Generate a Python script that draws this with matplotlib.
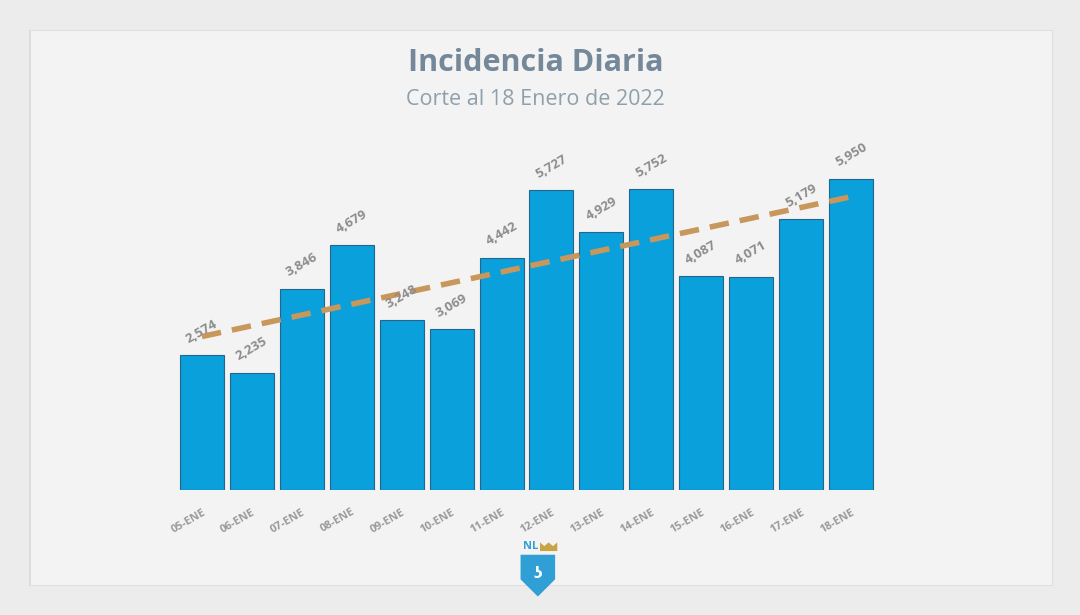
import numpy as np
import matplotlib
matplotlib.use('Agg')
import matplotlib.pyplot as plt
from matplotlib.patches import FancyBboxPatch, Polygon

dias = ['05-ENE', '06-ENE', '07-ENE', '08-ENE', '09-ENE', '10-ENE', '11-ENE',
        '12-ENE', '13-ENE', '14-ENE', '15-ENE', '16-ENE', '17-ENE', '18-ENE']
casos = [2574, 2235, 3846, 4679, 3248, 3069, 4442,
         5727, 4929, 5752, 4087, 4071, 5179, 5950]

plt.rcParams['font.family'] = ['Open Sans', 'DejaVu Sans']

fig = plt.figure(figsize=(10.8, 6.15), dpi=100)
fig.patch.set_facecolor('#ececec')

# panel con sombra
fig.patches.append(FancyBboxPatch((0.027, 0.047), 0.948, 0.905, boxstyle='square,pad=0',
                                  transform=fig.transFigure, facecolor='#dedede',
                                  edgecolor='none', zorder=-2))
fig.patches.append(FancyBboxPatch((0.029, 0.049), 0.945, 0.900, boxstyle='square,pad=0',
                                  transform=fig.transFigure, facecolor='#f3f3f3',
                                  edgecolor='none', zorder=-1))

ax = fig.add_axes([0.1639, 0.2033, 0.6472, 0.5528])
ax.set_facecolor('none')
ax.set_zorder(2)

x = np.arange(len(dias))
ax.bar(x, casos, width=0.88, color='#0aa0dc', edgecolor='#22668c', linewidth=0.8, zorder=2)

for xi, v in zip(x, casos):
    ax.annotate(f'{v:,}', (xi, v), xytext=(0, 7), textcoords='offset points',
                ha='center', va='bottom', rotation=30, fontsize=9.5, fontweight='bold',
                color='#8c8c8c', zorder=4)

# linea de tendencia
m, b = np.polyfit(x, casos, 1)
ax.plot(x, m * x + b, color='#c8975c', linewidth=4, linestyle=(0, (3.5, 2)),
        zorder=3, solid_capstyle='butt')

ax.set_xlim(-0.5, len(dias) - 0.5)
ax.set_ylim(0, 6500)
ax.set_xticks(x)
ax.set_xticklabels(dias, rotation=30, ha='right', rotation_mode='anchor',
                   fontsize=8, fontweight='bold', color='#9a9a9a')
ax.tick_params(axis='x', length=0, pad=12)
ax.set_yticks([])
for s in ax.spines.values():
    s.set_visible(False)

fig.text(0.496, 0.898, 'Incidencia Diaria', ha='center', va='center',
         fontsize=22, fontweight='bold', color='#74889a')
fig.text(0.496, 0.839, 'Corte al 18 Enero de 2022', ha='center', va='center',
         fontsize=15.5, color='#8fa0ad')

# logo
fig.text(0.491, 0.112, 'NL', ha='center', va='center', fontsize=8,
         fontweight='bold', color='#2f9fd6')
fig.patches.append(Polygon([(0.500, 0.104), (0.500, 0.118), (0.504, 0.112),
                            (0.508, 0.118), (0.512, 0.112), (0.516, 0.118),
                            (0.516, 0.104)], closed=True, transform=fig.transFigure,
                           facecolor='#c9a447', edgecolor='none', zorder=5))
fig.patches.append(Polygon([(0.482, 0.098), (0.514, 0.098), (0.514, 0.058),
                            (0.498, 0.030), (0.482, 0.058)], closed=True,
                           transform=fig.transFigure, facecolor='#2f9fd6',
                           edgecolor='none', zorder=5))
fig.text(0.498, 0.068, 'ʖ', ha='center', va='center', fontsize=11,
         color='white', fontweight='bold', family=['DejaVu Sans'], zorder=6)

fig.savefig('out.png', dpi=100, facecolor=fig.get_facecolor())
